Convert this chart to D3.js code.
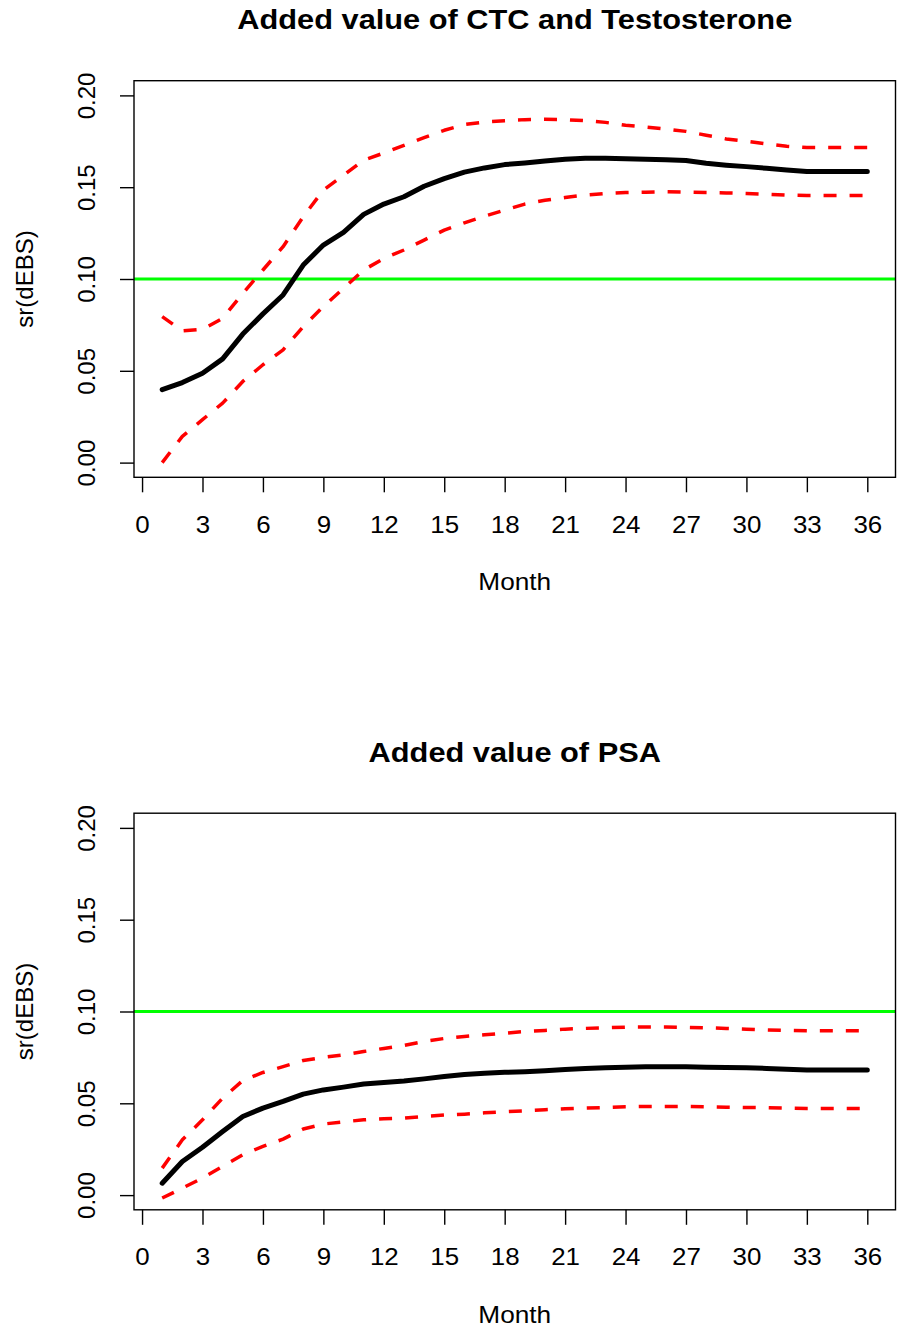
<!DOCTYPE html>
<html>
<head>
<meta charset="utf-8">
<script src="https://cdn.jsdelivr.net/npm/d3@7/dist/d3.min.js"></script>
<style>
  html, body { margin: 0; padding: 0; background: #fff; }
  svg { display: block; }
  text { font-family: "Liberation Sans", Arial, Helvetica, sans-serif; fill: #000; }
</style>
</head>
<body>
<svg id="chart" width="900" height="1332"></svg>
<script>
// ---------------- data ----------------
const months = [1,2,3,4,5,6,7,8,9,10,11,12,13,14,15,16,17,18,19,20,21,22,23,24,25,26,27,28,29,30,31,32,33,34,35,36];

const titles = ["Added value of CTC and Testosterone", "Added value of PSA"];

const ctcEstimate = [0.0397,0.0436,0.0487,0.0565,0.0700,0.0810,0.0913,0.1076,0.1185,0.1254,0.1352,0.1408,0.1448,0.1505,0.1547,0.1582,0.1605,0.1623,0.1632,0.1643,0.1652,0.1658,0.1658,0.1655,0.1652,0.1650,0.1645,0.1630,0.1620,0.1612,0.1603,0.1594,0.1585,0.1585,0.1585,0.1585];
const ctcUpper    = [0.0795,0.0717,0.0726,0.0786,0.0922,0.1049,0.1176,0.1339,0.1484,0.1565,0.1647,0.1686,0.1728,0.1770,0.1810,0.1841,0.1855,0.1862,0.1868,0.1870,0.1868,0.1862,0.1853,0.1837,0.1828,0.1817,0.1804,0.1783,0.1763,0.1750,0.1736,0.1723,0.1716,0.1716,0.1716,0.1716];
const ctcLower    = [0.0000,0.0143,0.0234,0.0324,0.0442,0.0533,0.0614,0.0741,0.0850,0.0949,0.1049,0.1112,0.1158,0.1212,0.1266,0.1306,0.1342,0.1375,0.1408,0.1429,0.1444,0.1457,0.1466,0.1471,0.1473,0.1475,0.1473,0.1471,0.1469,0.1466,0.1462,0.1457,0.1455,0.1455,0.1455,0.1455];

const psaEstimate = [0.0065,0.0183,0.0261,0.0346,0.0428,0.0474,0.0510,0.0550,0.0573,0.0588,0.0605,0.0613,0.0621,0.0633,0.0646,0.0657,0.0664,0.0669,0.0672,0.0677,0.0684,0.0690,0.0693,0.0697,0.0699,0.0699,0.0699,0.0697,0.0695,0.0693,0.0690,0.0686,0.0682,0.0682,0.0682,0.0682];
const psaUpper    = [0.0147,0.0301,0.0410,0.0528,0.0624,0.0668,0.0700,0.0733,0.0750,0.0764,0.0782,0.0799,0.0815,0.0837,0.0853,0.0864,0.0873,0.0882,0.0891,0.0897,0.0904,0.0908,0.0911,0.0915,0.0915,0.0915,0.0913,0.0911,0.0908,0.0904,0.0900,0.0897,0.0895,0.0895,0.0895,0.0895];
const psaLower    = [-0.0016,0.0038,0.0093,0.0156,0.0220,0.0265,0.0305,0.0360,0.0387,0.0399,0.0410,0.0416,0.0419,0.0428,0.0436,0.0441,0.0448,0.0454,0.0459,0.0465,0.0470,0.0474,0.0477,0.0481,0.0483,0.0483,0.0483,0.0481,0.0479,0.0477,0.0476,0.0474,0.0472,0.0472,0.0472,0.0472];

const threshold = 0.10;
const xTicks = [0,3,6,9,12,15,18,21,24,27,30,33,36];
const yTicks = [0.00,0.05,0.10,0.15,0.20];
const yTickLabels = ["0.00","0.05","0.10","0.15","0.20"];
const xLabel = "Month";
const yLabel = "sr(dEBS)";

// ---------------- layout ----------------
const svg = d3.select("#chart");
const FONT = '"Liberation Sans", Arial, Helvetica, sans-serif';
const boxLeft = 134, boxRight = 895.5;
const panelTop = [80.7, 813.2];
const panelH = 396.6;

const panels = [
  { title: titles[0], est: ctcEstimate, up: ctcUpper, lo: ctcLower, top: panelTop[0] },
  { title: titles[1], est: psaEstimate, up: psaUpper, lo: psaLower, top: panelTop[1] }
];

const x = d3.scaleLinear().domain([-0.4, 37.4]).range([boxLeft, boxRight]);

panels.forEach(p => {
  const bottom = p.top + panelH;
  const y = d3.scaleLinear().domain([-0.008, 0.208]).range([bottom, p.top]);
  const g = svg.append("g");

  // threshold line (abline)
  g.append("line")
    .attr("x1", boxLeft).attr("x2", boxRight)
    .attr("y1", y(threshold)).attr("y2", y(threshold))
    .attr("stroke", "#00ff00").attr("stroke-width", 3);

  const line = d3.line().x((d, i) => x(months[i])).y(d => y(d));

  [p.up, p.lo].forEach(arr => {
    g.append("path").datum(arr)
      .attr("d", line)
      .attr("fill", "none")
      .attr("stroke", "#ff0000")
      .attr("stroke-width", 3.5)
      .attr("stroke-dasharray", "13,13")
      .attr("stroke-linejoin", "round");
  });

  g.append("path").datum(p.est)
    .attr("d", line)
    .attr("fill", "none")
    .attr("stroke", "#000")
    .attr("stroke-width", 5)
    .attr("stroke-linejoin", "round")
    .attr("stroke-linecap", "round");

  // box
  g.append("rect")
    .attr("x", boxLeft).attr("y", p.top)
    .attr("width", boxRight - boxLeft).attr("height", panelH)
    .attr("fill", "none").attr("stroke", "#000").attr("stroke-width", 1.4);

  // x axis
  const xa = g.append("g")
    .attr("transform", `translate(0,${bottom})`)
    .call(d3.axisBottom(x).tickValues(xTicks).tickSize(15).tickSizeOuter(0).tickFormat(d3.format("d")));
  xa.select(".domain").remove();
  xa.selectAll(".tick line").attr("stroke", "#000").attr("stroke-width", 1.4);
  xa.selectAll(".tick text")
    .attr("y", null).attr("dy", null)
    .attr("transform", "translate(0,55.4) scale(1.08,1)")
    .attr("font-size", 24).attr("font-family", FONT).attr("fill", "#000");

  // y axis
  const ya = g.append("g")
    .attr("transform", `translate(${boxLeft},0)`)
    .call(d3.axisLeft(y).tickValues(yTicks).tickSize(14).tickSizeOuter(0).tickFormat((d, i) => yTickLabels[i]));
  ya.select(".domain").remove();
  ya.selectAll(".tick line").attr("stroke", "#000").attr("stroke-width", 1.4);
  ya.selectAll(".tick text")
    .attr("x", null).attr("dy", null)
    .attr("text-anchor", "middle")
    .attr("transform", "translate(-39,0) rotate(-90)")
    .attr("font-size", 24).attr("font-family", FONT).attr("fill", "#000");

  // title
  const cx = (boxLeft + boxRight) / 2;
  g.append("text")
    .attr("transform", `translate(${cx},${p.top - 51.4}) scale(1.14,1)`)
    .attr("text-anchor", "middle")
    .attr("font-size", 27).attr("font-weight", "bold")
    .text(p.title);

  // x label
  g.append("text")
    .attr("transform", `translate(${cx},${bottom + 112.7}) scale(1.14,1)`)
    .attr("text-anchor", "middle")
    .attr("font-size", 23)
    .text(xLabel);

  // y label
  g.append("text")
    .attr("transform", `translate(33,${(p.top + bottom) / 2}) rotate(-90)`)
    .attr("text-anchor", "middle")
    .attr("font-size", 24)
    .text(yLabel);
});
</script>
</body>
</html>
